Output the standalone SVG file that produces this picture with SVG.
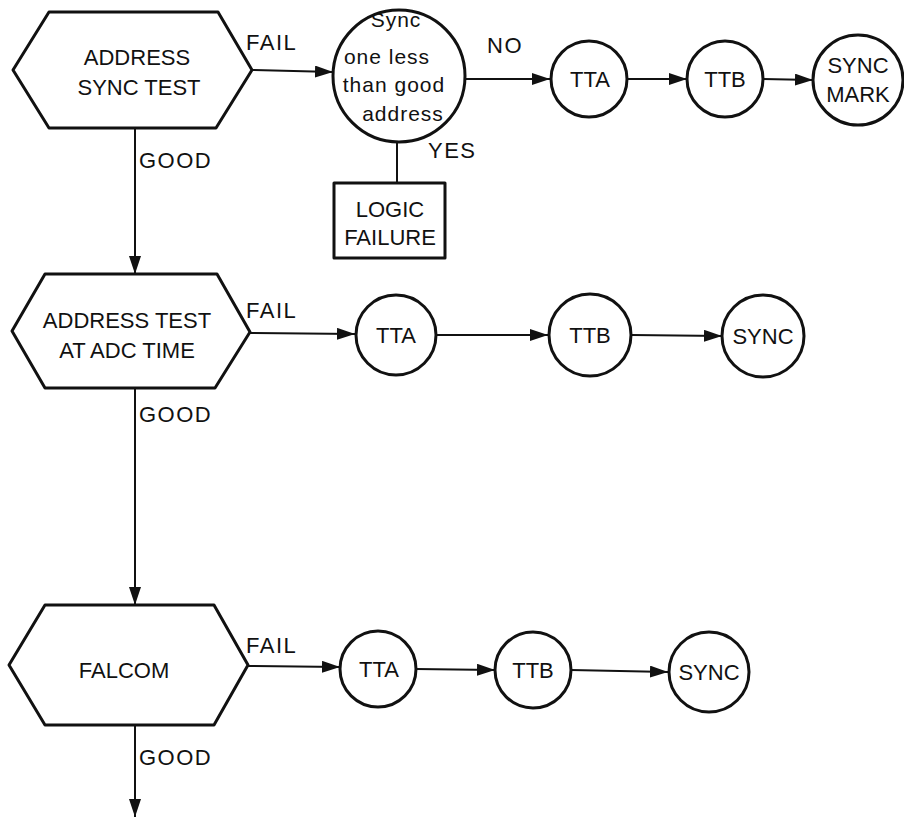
<svg xmlns="http://www.w3.org/2000/svg" width="904" height="820" viewBox="0 0 904 820">
<defs>
<style>
.shape{fill:none;stroke:#111;stroke-width:3;stroke-linejoin:round}
.line{fill:none;stroke:#111;stroke-width:2}
.t{font-family:"Liberation Sans",Arial,sans-serif;font-size:22px;fill:#111;text-anchor:middle}
.l{font-family:"Liberation Sans",Arial,sans-serif;font-size:22px;fill:#111;letter-spacing:1.5px}
.s{font-family:"Liberation Sans",Arial,sans-serif;font-size:21px;fill:#111;text-anchor:middle;letter-spacing:1px}
</style>
<marker id="arr" markerUnits="userSpaceOnUse" markerWidth="20" markerHeight="14" refX="18" refY="6" orient="auto">
<path d="M0,0 L18,6 L0,12 z" fill="#111"/>
</marker>
</defs>
<rect width="904" height="820" fill="#fff"/>

<g id="connectors">
<line class="line" x1="252" y1="70" x2="333" y2="72" marker-end="url(#arr)"/>
<line class="line" x1="465" y1="79" x2="550" y2="79" marker-end="url(#arr)"/>
<line class="line" x1="628" y1="79" x2="687" y2="79" marker-end="url(#arr)"/>
<line class="line" x1="763" y1="79" x2="813" y2="80" marker-end="url(#arr)"/>
<line class="line" x1="397" y1="142" x2="397" y2="183"/>
<line class="line" x1="135" y1="128" x2="135" y2="274" marker-end="url(#arr)"/>
<line class="line" x1="250" y1="333" x2="355" y2="334" marker-end="url(#arr)"/>
<line class="line" x1="437" y1="335" x2="548" y2="335" marker-end="url(#arr)"/>
<line class="line" x1="632" y1="335" x2="722" y2="336" marker-end="url(#arr)"/>
<line class="line" x1="135" y1="388" x2="135" y2="605" marker-end="url(#arr)"/>
<line class="line" x1="248" y1="666" x2="340" y2="667" marker-end="url(#arr)"/>
<line class="line" x1="416" y1="669" x2="495" y2="670" marker-end="url(#arr)"/>
<line class="line" x1="571" y1="670" x2="668" y2="672" marker-end="url(#arr)"/>
<line class="line" x1="135" y1="725" x2="135" y2="817" marker-end="url(#arr)"/>
<text class="l" x="246" y="50">FAIL</text>
<text class="l" x="139" y="168">GOOD</text>
<text class="l" x="487" y="53">NO</text>
<text class="l" x="428" y="158">YES</text>
<text class="l" x="246" y="318">FAIL</text>
<text class="l" x="139" y="422">GOOD</text>
<text class="l" x="246" y="653">FAIL</text>
<text class="l" x="139" y="765">GOOD</text>
</g>

<g id="address-sync-test">
<polygon class="shape" points="13,70 49,12 218,12 252,70 216,128 49,128"/>
<text class="t" x="137" y="65">ADDRESS</text>
<text class="t" x="139" y="95">SYNC TEST</text>
</g>

<g id="sync-one-less">
<circle class="shape" cx="399" cy="76" r="66"/>
<text class="s" x="396" y="27">Sync</text>
<text class="s" x="387" y="64">one less</text>
<text class="s" x="394" y="92">than good</text>
<text class="s" x="403" y="121">address</text>
</g>

<g id="logic-failure">
<rect class="shape" x="334" y="183" width="111" height="75"/>
<text class="t" x="390" y="217">LOGIC</text>
<text class="t" x="390" y="245">FAILURE</text>
</g>

<g id="tta-1">
<circle class="shape" cx="589" cy="79" r="38"/>
<text class="t" x="590" y="87">TTA</text>
</g>
<g id="ttb-1">
<circle class="shape" cx="725" cy="79" r="38"/>
<text class="t" x="725" y="87">TTB</text>
</g>
<g id="sync-mark">
<circle class="shape" cx="858" cy="80" r="45"/>
<text class="t" x="858" y="73">SYNC</text>
<text class="t" x="858" y="102">MARK</text>
</g>

<g id="address-test-adc">
<polygon class="shape" points="12,331 45,274 217,274 250,332 215,388 45,388"/>
<text class="t" x="127" y="328">ADDRESS TEST</text>
<text class="t" x="127" y="358">AT ADC TIME</text>
</g>
<g id="tta-2">
<circle class="shape" cx="396" cy="335" r="40"/>
<text class="t" x="396" y="343">TTA</text>
</g>
<g id="ttb-2">
<circle class="shape" cx="590" cy="335" r="41"/>
<text class="t" x="590" y="343">TTB</text>
</g>
<g id="sync-2">
<circle class="shape" cx="763" cy="336" r="41"/>
<text class="t" x="763" y="344">SYNC</text>
</g>

<g id="falcom">
<polygon class="shape" points="9,665 45,605 214,605 248,665 214,725 45,725"/>
<text class="t" x="124" y="678">FALCOM</text>
</g>
<g id="tta-3">
<circle class="shape" cx="378" cy="669" r="38"/>
<text class="t" x="379" y="677">TTA</text>
</g>
<g id="ttb-3">
<circle class="shape" cx="533" cy="670" r="38"/>
<text class="t" x="533" y="678">TTB</text>
</g>
<g id="sync-3">
<circle class="shape" cx="709" cy="672" r="40"/>
<text class="t" x="709" y="680">SYNC</text>
</g>
</svg>
